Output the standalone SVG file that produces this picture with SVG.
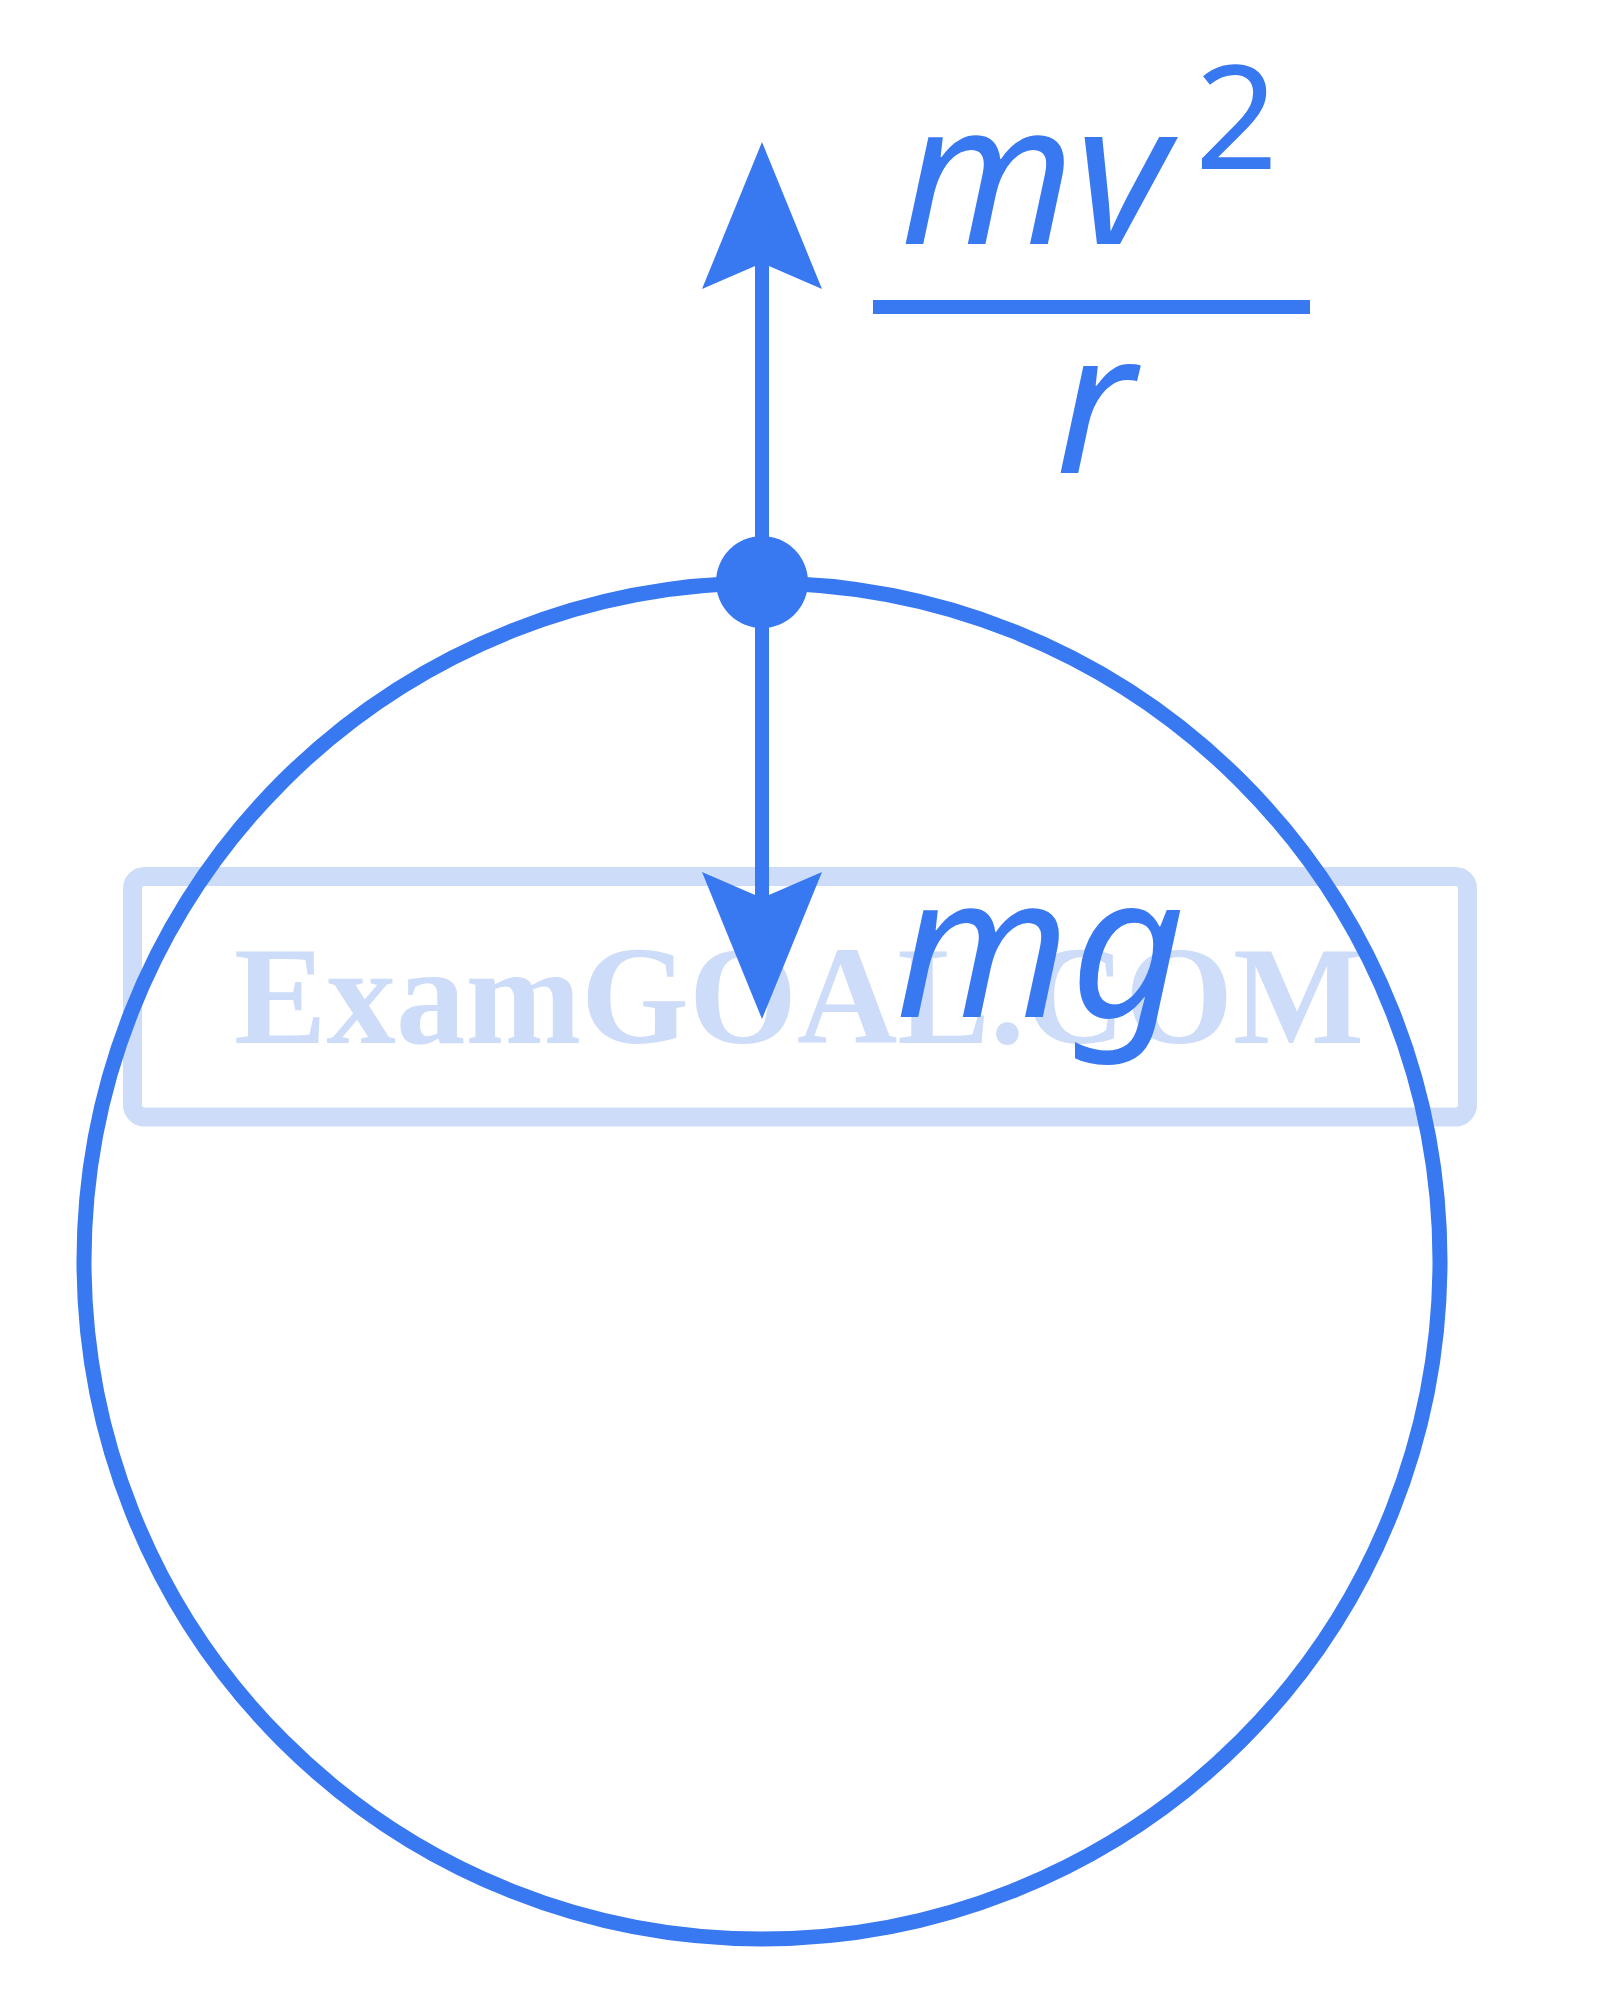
<svg xmlns="http://www.w3.org/2000/svg" width="1600" height="1994" viewBox="0 0 1600 1994">
<style>
.blue{fill:#3878f1}
.lbl{font-family:"Noto Sans","Open Sans",sans-serif;font-style:italic;fill:#3878f1}
.shaft{stroke:#3878f1;stroke-width:14;fill:none}
.wm{font-family:"Liberation Serif","Times New Roman",serif;font-weight:bold;fill:#cddcf8}
</style>
<defs>
<marker id="head" viewBox="0 0 147 120" refX="26" refY="60" markerWidth="147" markerHeight="120" markerUnits="userSpaceOnUse" orient="auto">
<path d="M0,0 L147,60 L0,120 L26,60 Z" fill="#3878f1"/>
</marker>
</defs>
<rect width="1600" height="1994" fill="#ffffff"/>
<g id="watermark">
<rect x="132.5" y="876.5" width="1335" height="240.5" rx="12" fill="none" stroke="#cddcf8" stroke-width="19"/>
<text class="wm" x="234" y="1043" font-size="139" textLength="1130" lengthAdjust="spacingAndGlyphs">ExamGOAL.COM</text>
</g>
<g id="body">
<circle cx="762" cy="1261" r="678" fill="none" stroke="#3878f1" stroke-width="15"/>
</g>
<g id="connectors">
<path class="shaft" d="M762,582 L762,263" marker-end="url(#head)"/>
<path class="shaft" d="M762,582 L762,898" marker-end="url(#head)"/>
</g>
<g id="point">
<circle class="blue" cx="762" cy="582" r="46"/>
</g>
<g id="label-centripetal">
<text class="lbl" x="900" y="244" font-size="200">mv</text>
<text x="1195" y="169" font-size="145" font-family="Noto Sans, Open Sans, sans-serif" fill="#3878f1">2</text>
<rect class="blue" x="873" y="300" width="437" height="14"/>
<text class="lbl" x="1055" y="473" font-size="200">r</text>
</g>
<g id="label-weight">
<text class="lbl" x="895" y="1017" font-size="200">mg</text>
</g>
</svg>
